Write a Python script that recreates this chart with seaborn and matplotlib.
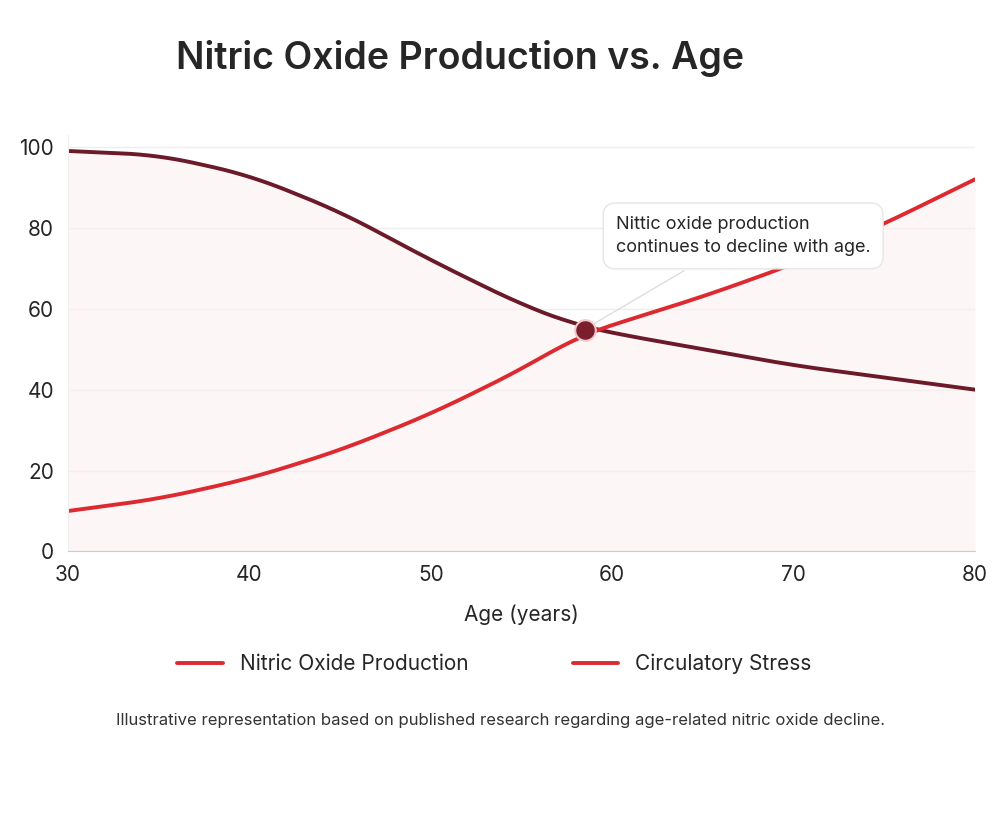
import numpy as np
import pandas as pd
import matplotlib.pyplot as plt
import seaborn as sns

ages = [30, 35, 40, 45, 50, 55, 58, 60, 65, 70, 75, 80]
nitric_oxide = [99, 98, 93, 84, 72, 61, 56, 54, 50, 46, 43, 40]
circ_stress = [10, 13, 18, 25, 34, 45, 53, 56, 63, 71, 81, 92]
y_ticks = [0, 20, 40, 60, 80, 100]
x_ticks = [30, 40, 50, 60, 70, 80]

df = pd.DataFrame({'age': ages, 'no': nitric_oxide, 'cs': circ_stress})

sns.set_style('white')
plt.rcParams['font.family'] = ['Inter', 'DejaVu Sans']

fig = plt.figure(figsize=(10, 8.17), dpi=100)
ax = fig.add_axes([0.068, 0.325, 0.907, 0.51])

# smooth curves
xs = np.linspace(30, 80, 500)
no_s = np.interp(xs, df['age'], df['no'])
cs_s = np.interp(xs, df['age'], df['cs'])
k = np.ones(41) / 41
no_s = np.convolve(np.pad(no_s, 20, mode='reflect', reflect_type='odd'), k, mode='valid')
cs_s = np.convolve(np.pad(cs_s, 20, mode='reflect', reflect_type='odd'), k, mode='valid')

ax.fill_between(xs, 0, np.maximum(no_s, cs_s), color='#fdeeee', alpha=0.5, lw=0)
sns.lineplot(x=xs, y=no_s, ax=ax, color='#6b1a2a', lw=2.8, label='Nitric Oxide Production')
sns.lineplot(x=xs, y=cs_s, ax=ax, color='#dc2a30', lw=2.8, label='Circulatory Stress')
ax.scatter([58.5], [54.7], s=220, color='#7a1f2b', zorder=5, edgecolor='#f3c9c9', lw=1.5)

ax.set_xlim(30, 80)
ax.set_ylim(0, 103)
ax.set_yticks(y_ticks)
ax.set_xticks(x_ticks)
ax.tick_params(labelsize=15, length=0, pad=10)
ax.yaxis.grid(True, color='#eeeeee', lw=1)
for s in ['top', 'right']:
    ax.spines[s].set_visible(False)
ax.spines['left'].set_color('#eeeeee')
ax.spines['bottom'].set_color('#cccccc')
ax.set_xlabel('Age (years)', fontsize=15, labelpad=14)
ax.set_ylabel('')

ax.annotate('Nittic oxide production\ncontinues to decline with age.',
            xy=(58.5, 55), xytext=(60.2, 78), fontsize=13, ha='left', va='center',
            linespacing=1.5,
            bbox=dict(boxstyle='round,pad=0.7', fc='white', ec='#e6e6e6'),
            arrowprops=dict(arrowstyle='-', color='#dddddd', lw=1))

leg = ax.legend(loc='upper center', bbox_to_anchor=(0.47, -0.2), ncol=2, frameon=False,
                fontsize=15, handlelength=2.2, columnspacing=5)
for h in leg.get_lines():
    h.set_color('#dc2a30')

fig.text(0.46, 0.915, 'Nitric Oxide Production vs. Age', ha='center', fontsize=27,
         fontweight='semibold')
fig.text(0.5, 0.113, 'Illustrative representation based on published research regarding age-related nitric oxide decline.',
         ha='center', fontsize=12, color='#333333')

fig.savefig('out.png', dpi=100, facecolor='white')
